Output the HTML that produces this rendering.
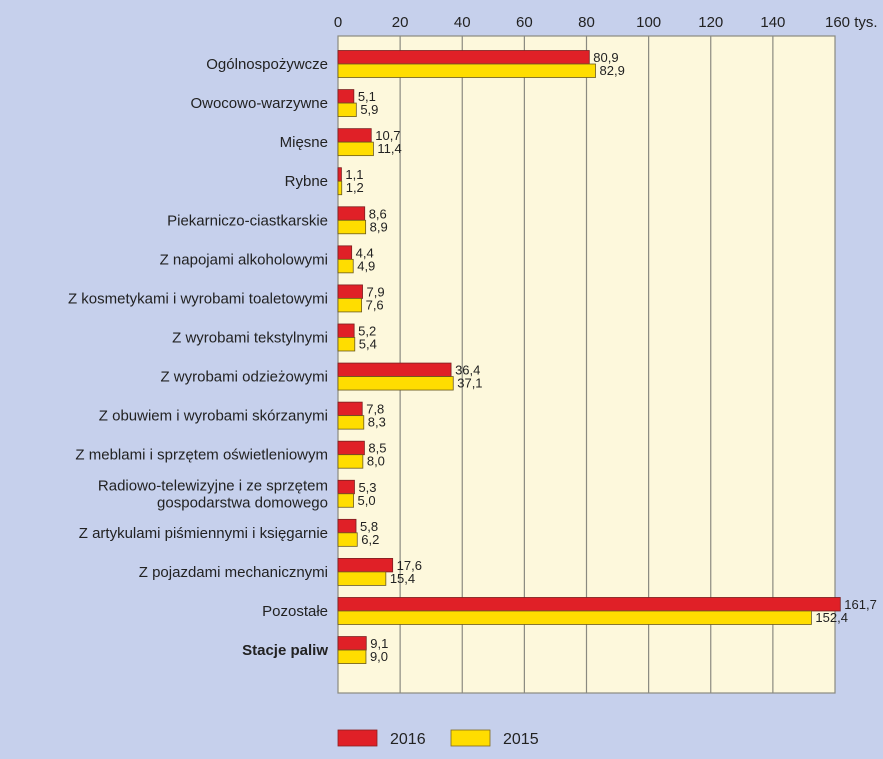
<!DOCTYPE html>
<html><head><meta charset="utf-8"><style>
html,body{margin:0;padding:0;background:#c6d0ec;}
svg{display:block;font-family:"Liberation Sans",sans-serif;}
</style></head><body>
<svg id="chart" width="883" height="759" xmlns="http://www.w3.org/2000/svg">
<rect x="0" y="0" width="883" height="759" fill="#c6d0ec"/>
<rect x="338" y="36" width="497" height="657" fill="#fdf8dc" stroke="#8a8a80" stroke-width="1.2"/>
<g id="grid"></g><g id="ticks"></g><g id="bars"></g><g id="labels"></g>
<g>
<rect x="338" y="730" width="39" height="16" fill="#e02027" stroke="#8b2020" stroke-width="0.8"/>
<text x="390" y="744" font-size="16" fill="#222">2016</text>
<rect x="451" y="730" width="39" height="16" fill="#ffdd00" stroke="#806a20" stroke-width="0.8"/>
<text x="503" y="744" font-size="16" fill="#222">2015</text>
</g>
</svg>
<script>
const categories=["Ogólnospożywcze","Owocowo-warzywne","Mięsne","Rybne","Piekarniczo-ciastkarskie","Z napojami alkoholowymi","Z kosmetykami i wyrobami toaletowymi","Z wyrobami tekstylnymi","Z wyrobami odzieżowymi","Z obuwiem i wyrobami skórzanymi","Z meblami i sprzętem oświetleniowym","Radiowo-telewizyjne i ze sprzętem|gospodarstwa domowego","Z artykulami piśmiennymi i księgarnie","Z pojazdami mechanicznymi","Pozostałe","Stacje paliw"];
const values2016=[80.9,5.1,10.7,1.1,8.6,4.4,7.9,5.2,36.4,7.8,8.5,5.3,5.8,17.6,161.7,9.1];
const values2015=[82.9,5.9,11.4,1.2,8.9,4.9,7.6,5.4,37.1,8.3,8.0,5.0,6.2,15.4,152.4,9.0];
const tickValues=[0,20,40,60,80,100,120,140,160];
const tickLabels=["0","20","40","60","80","100","120","140","160 tys."];
const NS="http://www.w3.org/2000/svg";
const x0=338,x1=835,maxV=160;
const xs=v=>x0+(v/maxV)*(x1-x0);
const rowY=i=>64+i*39.07;
const bh=13.5;
function mk(tag,attrs,parent){const e=document.createElementNS(NS,tag);for(const k in attrs)e.setAttribute(k,attrs[k]);document.getElementById(parent).appendChild(e);return e;}
const fmt=v=>v.toFixed(1).replace('.',',');
tickValues.forEach((t,i)=>{
  if(i>0&&i<tickValues.length-1){const l=mk('line',{x1:xs(t),x2:xs(t),y1:36,y2:693,stroke:'#8a8a80','stroke-width':1.2},'grid');
  
  }
  const tx=mk('text',{x:xs(t),y:27,'font-size':15,fill:'#222','text-anchor':i===tickValues.length-1?'start':'middle'},'ticks');
  if(i===tickValues.length-1)tx.setAttribute('x',xs(t)-10);
  tx.textContent=tickLabels[i];
  
  
});
categories.forEach((c,i)=>{
  const cy=rowY(i);
  const r=mk('rect',{x:x0,y:cy-bh,width:xs(values2016[i])-x0,height:bh,fill:'#e02027',stroke:'#7a2020','stroke-width':0.8},'bars');
  
  
  const y=mk('rect',{x:x0,y:cy,width:xs(values2015[i])-x0,height:bh,fill:'#ffdd00',stroke:'#6a5a20','stroke-width':0.8},'bars');
  
  
  const v1=mk('text',{x:xs(values2016[i])+4,y:cy-2,'font-size':13,fill:'#222'},'labels');
  v1.textContent=fmt(values2016[i]);
  
  
  const v2=mk('text',{x:xs(values2015[i])+4,y:cy+11,'font-size':13,fill:'#222'},'labels');
  v2.textContent=fmt(values2015[i]);
  
  
  const parts=c.split('|');
  parts.forEach((p,j)=>{
    const t=mk('text',{x:328,y:cy+5+(j-(parts.length-1)/2)*17,'font-size':15,fill:'#222','text-anchor':'end'},'labels');
    if(i===categories.length-1)t.setAttribute('font-weight','bold');
    t.textContent=p;
    
    
  });
});
</script>
</body></html>
